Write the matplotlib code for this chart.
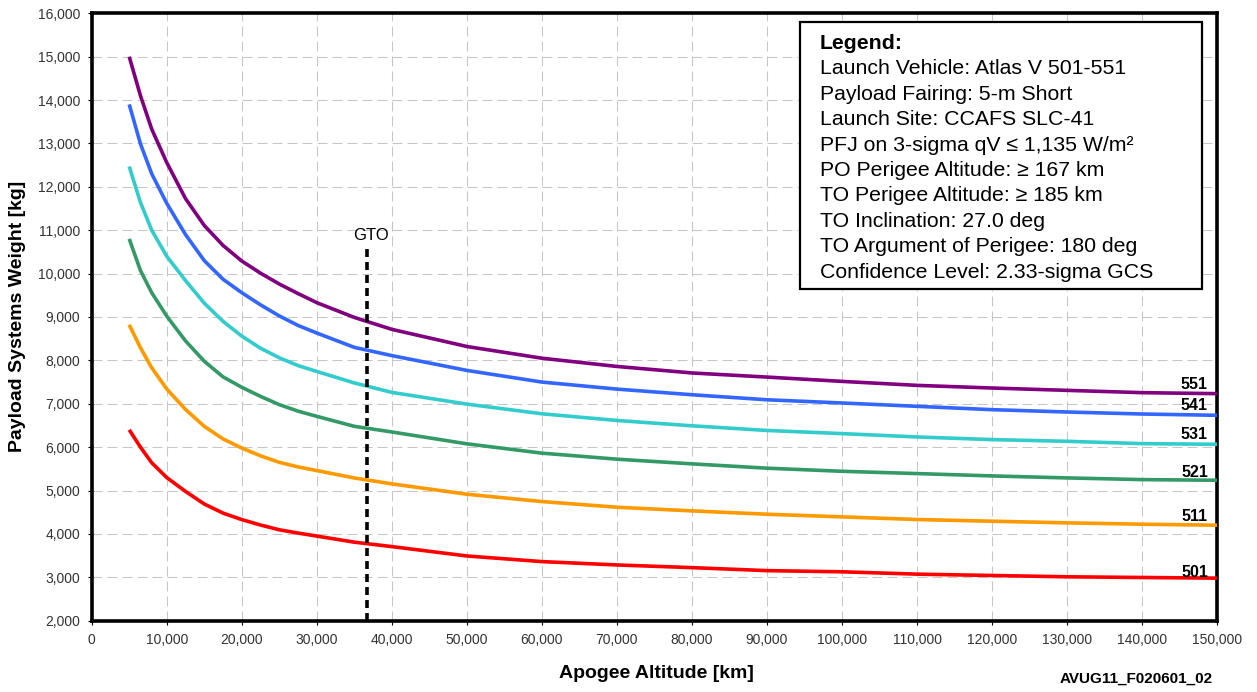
import matplotlib
matplotlib.use("Agg")
import matplotlib.pyplot as plt
from matplotlib.ticker import FuncFormatter, MultipleLocator
from matplotlib.patches import Rectangle

plt.rcParams['font.family'] = ['Liberation Sans', 'DejaVu Sans']

# ---------------- data ----------------
apogee_km = [5000, 6500, 8000, 10000, 12500, 15000, 17500, 20000, 22500, 25000,
             27500, 30000, 35000, 40000, 50000, 60000, 70000, 80000, 90000,
             100000, 110000, 120000, 130000, 140000, 150000]

v551 = [15000, 14100, 13330, 12560, 11730, 11110, 10650, 10290, 10010, 9760,
        9540, 9330, 8990, 8715, 8320, 8050, 7860, 7710, 7615,
        7516, 7424, 7363, 7309, 7256, 7233]
v541 = [13900, 12990, 12300, 11620, 10900, 10300, 9870, 9560, 9280, 9025,
        8805, 8630, 8300, 8110, 7769, 7500, 7338, 7208, 7092,
        7018, 6941, 6864, 6810, 6764, 6734]
v531 = [12470, 11640, 11000, 10400, 9840, 9320, 8900, 8560, 8280, 8060,
        7880, 7745, 7480, 7262, 6992, 6769, 6615, 6492, 6385,
        6312, 6235, 6174, 6135, 6081, 6066]
v521 = [10800, 10070, 9560, 9020, 8450, 7980, 7620, 7380, 7170, 6980,
        6830, 6710, 6480, 6350, 6077, 5862, 5723, 5615, 5515,
        5444, 5391, 5337, 5291, 5252, 5237]
v511 = [8820, 8290, 7830, 7340, 6870, 6480, 6190, 5980, 5800, 5650,
        5545, 5460, 5290, 5154, 4915, 4746, 4615, 4531, 4454,
        4393, 4332, 4293, 4255, 4224, 4201]
v501 = [6400, 6000, 5640, 5300, 4980, 4690, 4480, 4330, 4205, 4095,
        4020, 3950, 3810, 3708, 3492, 3362, 3285, 3223, 3154,
        3127, 3073, 3042, 3012, 2996, 2981]

series_labels = ["551", "541", "531", "521", "511", "501"]
series_values = [v551, v541, v531, v521, v511, v501]
series_colors = ["#800080", "#3366FF", "#33CCCC", "#339966", "#FF9900", "#FF0000"]
label_offsets_pt = [3.0, 3.5, 3.5, 2.0, 3.0, 0.5]

gto_km = 36700
gto_top = 10650

legend_lines = [
    "Launch Vehicle: Atlas V 501-551",
    "Payload Fairing: 5-m Short",
    "Launch Site: CCAFS SLC-41",
    "PFJ on 3-sigma qV \u2264 1,135 W/m\u00b2",
    "PO Perigee Altitude: \u2265 167 km",
    "TO Perigee Altitude: \u2265 185 km",
    "TO Inclination: 27.0 deg",
    "TO Argument of Perigee: 180 deg",
    "Confidence Level: 2.33-sigma GCS",
]

# ---------------- figure ----------------
W, H = 1257, 692
fig = plt.figure(figsize=(W / 100, H / 100), dpi=100)
ax = fig.add_axes([91.7 / W, 1 - 620.7 / H, (1217.3 - 91.7) / W, (620.7 - 13.3) / H])

for lab, vals, col in zip(series_labels, series_values, series_colors):
    ax.plot(apogee_km, vals, color=col, lw=2.6, solid_capstyle='butt',
            solid_joinstyle='round', zorder=3)

for lab, vals, off in zip(series_labels, series_values, label_offsets_pt):
    ax.annotate(lab, xy=(apogee_km[-1], vals[-1]), xytext=(-6.7, off),
                textcoords='offset points', ha='right', va='baseline',
                fontsize=11.5, fontweight='bold', color='black', zorder=5)

# GTO marker
ax.plot([gto_km, gto_km], [2000, gto_top], color='black', lw=2.6,
        linestyle=(0, (2.2, 1.4)), zorder=4)
ax.annotate("GTO", xy=(gto_km, gto_top), xytext=(3, 1.5), textcoords='offset points',
            ha='center', va='bottom', fontsize=12, color='black')

ax.set_xlim(0, 150000)
ax.set_ylim(2000, 16000)
ax.xaxis.set_major_locator(MultipleLocator(10000))
ax.yaxis.set_major_locator(MultipleLocator(1000))
fmt = FuncFormatter(lambda v, p: f"{int(round(v)):,}")
ax.xaxis.set_major_formatter(fmt)
ax.yaxis.set_major_formatter(fmt)

ax.grid(True, color='#c6c6c6', linewidth=0.75, linestyle=(0, (9.6, 4.8)), zorder=0)
for s in ax.spines.values():
    s.set_linewidth(2.6)
    s.set_color('black')
ax.tick_params(axis='both', direction='out', length=3.2, width=0.8, color='black',
               labelsize=10, labelcolor='#333333')
ax.tick_params(axis='x', pad=6)
ax.tick_params(axis='y', pad=5)

# axis labels
fig.text(656.5 / W, 1 - 674 / H, "Apogee Altitude [km]", ha='center', va='center',
         fontsize=14, fontweight='bold')
fig.text(17.5 / W, 1 - 316 / H, "Payload Systems Weight [kg]", ha='center', va='center',
         rotation=90, fontsize=14, fontweight='bold')
fig.text(1212.7 / W, 1 - 678.3 / H, "AVUG11_F020601_02", ha='right', va='center',
         fontsize=11, fontweight='bold')

# legend box
x0, y0, x1, y1 = 800, 22, 1202, 288.7
fig.patches.append(Rectangle((x0 / W, 1 - y1 / H), (x1 - x0) / W, (y1 - y0) / H,
                             transform=fig.transFigure, facecolor='white',
                             edgecolor='black', linewidth=1.6, zorder=10))
base0 = 49.0
step = 25.4
fig.text(820 / W, 1 - base0 / H, "Legend:", ha='left', va='baseline',
         fontsize=15.3, fontweight='bold', zorder=11)
for i, line in enumerate(legend_lines):
    fig.text(820 / W, 1 - (base0 + (i + 1) * step) / H, line, ha='left', va='baseline',
             fontsize=15.3, zorder=11)

fig.savefig("out.png", dpi=100)
